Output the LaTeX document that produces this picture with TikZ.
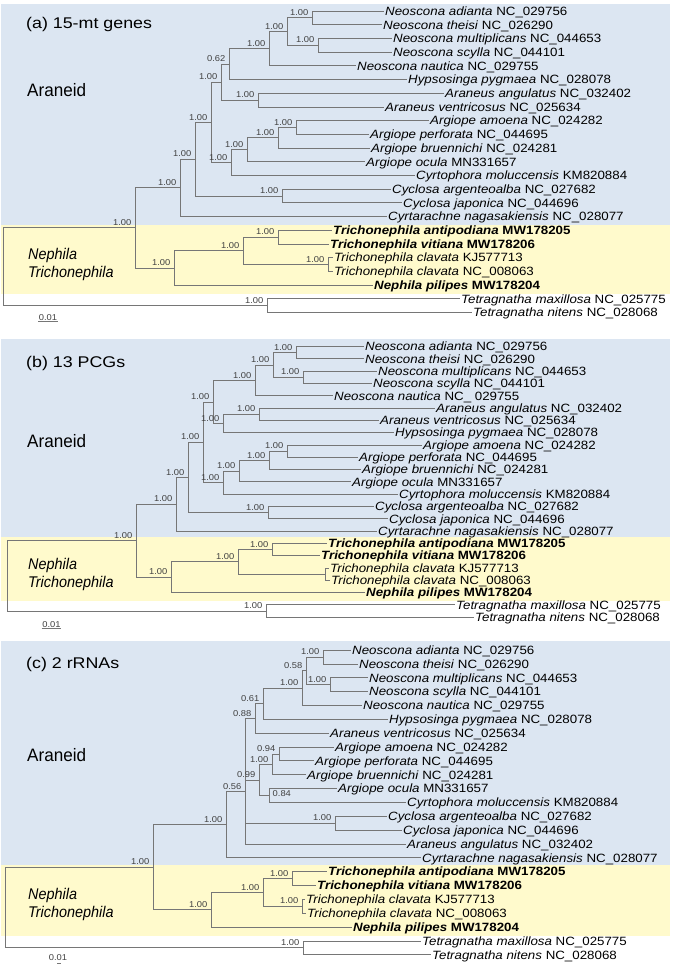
\documentclass[tikz,border=0pt]{standalone}
\usepackage{fontspec}
\setmainfont{Liberation Sans}
\definecolor{araneidblue}{RGB}{220,230,242}
\definecolor{nephilayellow}{RGB}{255,250,204}
\definecolor{branchgray}{RGB}{118,118,118}
\definecolor{supportgray}{RGB}{64,64,64}
\newcommand\taxon[2]{\scalebox{1.11}[1]{\textit{#1} #2}}
\newcommand\taxonbf[2]{\scalebox{1.11}[1]{\textbf{\textit{#1} #2}}}
\newcommand\supp[1]{\scalebox{1.1}[1]{#1}}
\tikzset{
  branch/.style={draw=branchgray, line width=0.7pt},
  tip/.style={anchor=west, inner sep=1pt, text depth=0pt, font=\fontsize{12}{14}\selectfont},
  support/.style={anchor=south east, inner sep=0.5pt, xshift=-3pt, yshift=1.5pt,
    text=supportgray, font=\fontsize{8.5}{10}\selectfont},
  panel/.style={anchor=west, inner sep=0pt, font=\fontsize{15.5}{18}\selectfont},
  group/.style={anchor=west, inner sep=0pt, font=\fontsize{18}{20}\selectfont},
  genus/.style={anchor=north west, inner sep=0pt, align=left, font=\fontsize{15.5}{18}\selectfont\itshape},
  scalelabel/.style={inner sep=0.5pt, text=supportgray, font=\fontsize{8.5}{10}\selectfont}
}
\begin{document}
\begin{tikzpicture}[x=1pt,y=-1pt]
\useasboundingbox (0,0) rectangle (673,968);

% clade boxes
\fill[araneidblue] (1,4) rectangle (670,225);
\fill[nephilayellow] (1,225) rectangle (670,294);
\fill[araneidblue] (1,339) rectangle (670,536.7);
\fill[nephilayellow] (1,536.7) rectangle (670,601);
\fill[araneidblue] (1,641) rectangle (670,865);
\fill[nephilayellow] (1,865) rectangle (670,936);

% ---------------- (a) 15-mt genes
\node[panel] (aTitle) at (26,24) {\scalebox{1.15}[1]{(a) 15-mt genes}};
\node[group] (aAraneid) at (27,90) {\scalebox{0.95}[1]{Araneid}};
\node[genus] (aNephila) at (28,248) {\scalebox{0.93}[1]{Nephila}\\\scalebox{0.93}[1]{Trichonephila}};

\node[tip] (aT1) at (384,11) {\taxon{Neoscona adianta}{NC\_029756}};
\node[tip] (aT2) at (382,24.7) {\taxon{Neoscona theisi}{NC\_026290}};
\node[tip] (aT3) at (392,38.4) {\taxon{Neoscona multiplicans}{NC\_044653}};
\node[tip] (aT4) at (392,52.1) {\taxon{Neoscona scylla}{NC\_044101}};
\node[tip] (aT5) at (356,65.8) {\taxon{Neoscona nautica}{NC\_029755}};
\node[tip] (aT6) at (407,79.5) {\taxon{Hypsosinga pygmaea}{NC\_028078}};
\node[tip] (aT7) at (444,93.2) {\taxon{Araneus angulatus}{NC\_032402}};
\node[tip] (aT8) at (384,106.9) {\taxon{Araneus ventricosus}{NC\_025634}};
\node[tip] (aT9) at (429,120.6) {\taxon{Argiope amoena}{NC\_024282}};
\node[tip] (aT10) at (369,134.3) {\taxon{Argiope perforata}{NC\_044695}};
\node[tip] (aT11) at (370,148) {\taxon{Argiope bruennichi}{NC\_024281}};
\node[tip] (aT12) at (365,161.7) {\taxon{Argiope ocula}{MN331657}};
\node[tip] (aT13) at (415,175.4) {\taxon{Cyrtophora moluccensis}{KM820884}};
\node[tip] (aT14) at (391,189.1) {\taxon{Cyclosa argenteoalba}{NC\_027682}};
\node[tip] (aT15) at (402,202.8) {\taxon{Cyclosa japonica}{NC\_044696}};
\node[tip] (aT16) at (387,216.5) {\taxon{Cyrtarachne nagasakiensis}{NC\_028077}};
\node[tip] (aT17) at (332,230.2) {\taxonbf{Trichonephila antipodiana}{MW178205}};
\node[tip] (aT18) at (329,243.9) {\taxonbf{Trichonephila vitiana}{MW178206}};
\node[tip] (aT19) at (333,257.6) {\taxon{Trichonephila clavata}{KJ577713}};
\node[tip] (aT20) at (333,271.3) {\taxon{Trichonephila clavata}{NC\_008063}};
\node[tip] (aT21) at (373,285) {\taxonbf{Nephila pilipes}{MW178204}};
\node[tip] (aT22) at (460,298.7) {\taxon{Tetragnatha maxillosa}{NC\_025775}};
\node[tip] (aT23) at (472,312.4) {\taxon{Tetragnatha nitens}{NC\_028068}};

\coordinate (aN1) at (312,17.85);
\coordinate (aN2) at (318,45.25);
\coordinate (aN3) at (287,31.55);
\coordinate (aN4) at (269,48.7);
\coordinate (aN5) at (229,64.1);
\coordinate (aN6) at (258,100.05);
\coordinate (aN7) at (221,82.1);
\coordinate (aN8) at (296,127.45);
\coordinate (aN9) at (278,137.7);
\coordinate (aN10) at (247,149.7);
\coordinate (aN11) at (231,162.6);
\coordinate (aN12) at (211,122.3);
\coordinate (aN13) at (282,195.95);
\coordinate (aN14) at (195,159.1);
\coordinate (aN15) at (180,187.8);
\coordinate (aN17) at (278,237.05);
\coordinate (aN18) at (328,264.45);
\coordinate (aN19) at (243,250.75);
\coordinate (aN20) at (174,267.9);
\coordinate (aN21) at (135,227.85);
\coordinate (aN22) at (267,305.55);
\coordinate (aRoot) at (3.3,266.7);

\draw[branch] (aN1) |- (aT1.west) (aN1) |- (aT2.west);
\draw[branch] (aN2) |- (aT3.west) (aN2) |- (aT4.west);
\draw[branch] (aN3) |- (aN1) (aN3) |- (aN2);
\draw[branch] (aN4) |- (aN3) (aN4) |- (aT5.west);
\draw[branch] (aN5) |- (aN4) (aN5) |- (aT6.west);
\draw[branch] (aN6) |- (aT7.west) (aN6) |- (aT8.west);
\draw[branch] (aN7) |- (aN5) (aN7) |- (aN6);
\draw[branch] (aN8) |- (aT9.west) (aN8) |- (aT10.west);
\draw[branch] (aN9) |- (aN8) (aN9) |- (aT11.west);
\draw[branch] (aN10) |- (aN9) (aN10) |- (aT12.west);
\draw[branch] (aN11) |- (aN10) (aN11) |- (aT13.west);
\draw[branch] (aN12) |- (aN7) (aN12) |- (aN11);
\draw[branch] (aN13) |- (aT14.west) (aN13) |- (aT15.west);
\draw[branch] (aN14) |- (aN12) (aN14) |- (aN13);
\draw[branch] (aN15) |- (aN14) (aN15) |- (aT16.west);
\draw[branch] (aN17) |- (aT17.west) (aN17) |- (aT18.west);
\draw[branch] (aN18) |- (aT19.west) (aN18) |- (aT20.west);
\draw[branch] (aN19) |- (aN17) (aN19) |- (aN18);
\draw[branch] (aN20) |- (aN19) (aN20) |- (aT21.west);
\draw[branch] (aN21) |- (aN15) (aN21) |- (aN20);
\draw[branch] (aN22) |- (aT22.west) (aN22) |- (aT23.west);
\draw[branch] (aRoot) |- (aN21) (aRoot) |- (aN22);

\node[support] at (aN1) {\supp{1.00}};
\node[support] at (aN2) {\supp{1.00}};
\node[support] at (aN3) {\supp{1.00}};
\node[support] at (aN4) {\supp{1.00}};
\node[support] at (aN5) {\supp{0.62}};
\node[support] at (aN6) {\supp{1.00}};
\node[support] at (aN7) {\supp{1.00}};
\node[support] at (aN8) {\supp{1.00}};
\node[support] at (aN9) {\supp{1.00}};
\node[support] at (aN10) {\supp{1.00}};
\node[support] at (aN11) {\supp{1.00}};
\node[support] at (aN12) {\supp{1.00}};
\node[support] at (aN13) {\supp{1.00}};
\node[support] at (aN14) {\supp{1.00}};
\node[support] at (aN15) {\supp{1.00}};
\node[support] at (aN17) {\supp{1.00}};
\node[support] at (aN18) {\supp{1.00}};
\node[support] at (aN19) {\supp{1.00}};
\node[support] at (aN20) {\supp{1.00}};
\node[support] at (aN21) {\supp{1.00}};
\node[support] at (aN22) {\supp{1.00}};

\node[scalelabel] (aScale) at (48,318) {\supp{0.01}};
\draw[branch] (aScale.south west) -- (aScale.south east);

% ---------------- (b) 13 PCGs
\node[panel] (bTitle) at (26,363.5) {\scalebox{1.15}[1]{(b) 13 PCGs}};
\node[group] (bAraneid) at (27,441.5) {\scalebox{0.95}[1]{Araneid}};
\node[genus] (bNephila) at (28,558) {\scalebox{0.93}[1]{Nephila}\\\scalebox{0.93}[1]{Trichonephila}};

\node[tip] (bT1) at (364,346.5) {\taxon{Neoscona adianta}{NC\_029756}};
\node[tip] (bT2) at (364,358.8) {\taxon{Neoscona theisi}{NC\_026290}};
\node[tip] (bT3) at (377,371.1) {\taxon{Neoscona multiplicans}{NC\_044653}};
\node[tip] (bT4) at (372,383.4) {\taxon{Neoscona scylla}{NC\_044101}};
\node[tip] (bT5) at (333,395.7) {\taxon{Neoscona nautica}{NC\_ 029755}};
\node[tip] (bT6) at (435,408) {\taxon{Araneus angulatus}{NC\_032402}};
\node[tip] (bT7) at (379,420.3) {\taxon{Araneus ventricosus}{NC\_025634}};
\node[tip] (bT8) at (394,432.6) {\taxon{Hypsosinga pygmaea}{NC\_028078}};
\node[tip] (bT9) at (422,444.9) {\taxon{Argiope amoena}{NC\_024282}};
\node[tip] (bT10) at (358,457.2) {\taxon{Argiope perforata}{NC\_044695}};
\node[tip] (bT11) at (361,469.5) {\taxon{Argiope bruennichi}{NC\_024281}};
\node[tip] (bT12) at (351,481.8) {\taxon{Argiope ocula}{MN331657}};
\node[tip] (bT13) at (398,494.1) {\taxon{Cyrtophora moluccensis}{KM820884}};
\node[tip] (bT14) at (374,506.4) {\taxon{Cyclosa argenteoalba}{NC\_027682}};
\node[tip] (bT15) at (388,518.7) {\taxon{Cyclosa japonica}{NC\_044696}};
\node[tip] (bT16) at (377,531) {\taxon{Cyrtarachne nagasakiensis}{NC\_028077}};
\node[tip] (bT17) at (327,543.3) {\taxonbf{Trichonephila antipodiana}{MW178205}};
\node[tip] (bT18) at (320,555.6) {\taxonbf{Trichonephila vitiana}{MW178206}};
\node[tip] (bT19) at (329,567.9) {\taxon{Trichonephila clavata}{KJ577713}};
\node[tip] (bT20) at (330,580.2) {\taxon{Trichonephila clavata}{NC\_008063}};
\node[tip] (bT21) at (365,592.5) {\taxonbf{Nephila pilipes}{MW178204}};
\node[tip] (bT22) at (455,604.8) {\taxon{Tetragnatha maxillosa}{NC\_025775}};
\node[tip] (bT23) at (474,617.1) {\taxon{Tetragnatha nitens}{NC\_028068}};

\coordinate (bN1) at (296,352.65);
\coordinate (bN2) at (303,377.25);
\coordinate (bN3) at (273,364.95);
\coordinate (bN4) at (255,380.3);
\coordinate (bN5) at (259,414.15);
\coordinate (bN6) at (223,423.4);
\coordinate (bN7) at (213,401.85);
\coordinate (bN8) at (287,451.05);
\coordinate (bN9) at (269,460.3);
\coordinate (bN10) at (239,471.05);
\coordinate (bN11) at (223,482.6);
\coordinate (bN12) at (203,442.2);
\coordinate (bN13) at (268,512.55);
\coordinate (bN14) at (188,477.4);
\coordinate (bN15) at (176,504.2);
\coordinate (bN17) at (272,549.45);
\coordinate (bN18) at (325,574.05);
\coordinate (bN19) at (238,561.75);
\coordinate (bN20) at (171,577.1);
\coordinate (bN21) at (136,540.65);
\coordinate (bN22) at (266,610.95);
\coordinate (bRoot) at (7.3,575.8);

\draw[branch] (bN1) |- (bT1.west) (bN1) |- (bT2.west);
\draw[branch] (bN2) |- (bT3.west) (bN2) |- (bT4.west);
\draw[branch] (bN3) |- (bN1) (bN3) |- (bN2);
\draw[branch] (bN4) |- (bN3) (bN4) |- (bT5.west);
\draw[branch] (bN5) |- (bT6.west) (bN5) |- (bT7.west);
\draw[branch] (bN6) |- (bN5) (bN6) |- (bT8.west);
\draw[branch] (bN7) |- (bN4) (bN7) |- (bN6);
\draw[branch] (bN8) |- (bT9.west) (bN8) |- (bT10.west);
\draw[branch] (bN9) |- (bN8) (bN9) |- (bT11.west);
\draw[branch] (bN10) |- (bN9) (bN10) |- (bT12.west);
\draw[branch] (bN11) |- (bN10) (bN11) |- (bT13.west);
\draw[branch] (bN12) |- (bN7) (bN12) |- (bN11);
\draw[branch] (bN13) |- (bT14.west) (bN13) |- (bT15.west);
\draw[branch] (bN14) |- (bN12) (bN14) |- (bN13);
\draw[branch] (bN15) |- (bN14) (bN15) |- (bT16.west);
\draw[branch] (bN17) |- (bT17.west) (bN17) |- (bT18.west);
\draw[branch] (bN18) |- (bT19.west) (bN18) |- (bT20.west);
\draw[branch] (bN19) |- (bN17) (bN19) |- (bN18);
\draw[branch] (bN20) |- (bN19) (bN20) |- (bT21.west);
\draw[branch] (bN21) |- (bN15) (bN21) |- (bN20);
\draw[branch] (bN22) |- (bT22.west) (bN22) |- (bT23.west);
\draw[branch] (bRoot) |- (bN21) (bRoot) |- (bN22);

\node[support] at (bN1) {\supp{1.00}};
\node[support] at (bN2) {\supp{1.00}};
\node[support] at (bN3) {\supp{1.00}};
\node[support] at (bN4) {\supp{1.00}};
\node[support] at (bN5) {\supp{1.00}};
\node[support] at (bN6) {\supp{1.00}};
\node[support] at (bN7) {\supp{1.00}};
\node[support] at (bN8) {\supp{1.00}};
\node[support] at (bN9) {\supp{1.00}};
\node[support] at (bN10) {\supp{1.00}};
\node[support] at (bN11) {\supp{1.00}};
\node[support] at (bN12) {\supp{1.00}};
\node[support] at (bN13) {\supp{1.00}};
\node[support] at (bN14) {\supp{1.00}};
\node[support] at (bN15) {\supp{1.00}};
\node[support] at (bN17) {\supp{1.00}};
\node[support] at (bN19) {\supp{1.00}};
\node[support] at (bN20) {\supp{1.00}};
\node[support] at (bN21) {\supp{1.00}};
\node[support] at (bN22) {\supp{1.00}};

\node[scalelabel] (bScale) at (51.5,624.5) {\supp{0.01}};
\draw[branch] (bScale.south west) -- (bScale.south east);

% ---------------- (c) 2 rRNAs
\node[panel] (cTitle) at (26,664) {\scalebox{1.15}[1]{(c) 2 rRNAs}};
\node[group] (cAraneid) at (27,755) {\scalebox{0.95}[1]{Araneid}};
\node[genus] (cNephila) at (28,888) {\scalebox{0.93}[1]{Nephila}\\\scalebox{0.93}[1]{Trichonephila}};

\node[tip] (cT1) at (351,650) {\taxon{Neoscona adianta}{NC\_029756}};
\node[tip] (cT2) at (358,663.85) {\taxon{Neoscona theisi}{NC\_026290}};
\node[tip] (cT3) at (368,677.7) {\taxon{Neoscona multiplicans}{NC\_044653}};
\node[tip] (cT4) at (368,691.55) {\taxon{Neoscona scylla}{NC\_044101}};
\node[tip] (cT5) at (362,705.4) {\taxon{Neoscona nautica}{NC\_029755}};
\node[tip] (cT6) at (388,719.25) {\taxon{Hypsosinga pygmaea}{NC\_028078}};
\node[tip] (cT7) at (329,733.1) {\taxon{Araneus ventricosus}{NC\_025634}};
\node[tip] (cT8) at (334,746.95) {\taxon{Argiope amoena}{NC\_024282}};
\node[tip] (cT9) at (314,760.8) {\taxon{Argiope perforata}{NC\_044695}};
\node[tip] (cT10) at (306,774.65) {\taxon{Argiope bruennichi}{NC\_024281}};
\node[tip] (cT11) at (337,788.5) {\taxon{Argiope ocula}{MN331657}};
\node[tip] (cT12) at (406,802.35) {\taxon{Cyrtophora moluccensis}{KM820884}};
\node[tip] (cT13) at (387,816.2) {\taxon{Cyclosa argenteoalba}{NC\_027682}};
\node[tip] (cT14) at (402,830.05) {\taxon{Cyclosa japonica}{NC\_044696}};
\node[tip] (cT15) at (406,843.9) {\taxon{Araneus angulatus}{NC\_032402}};
\node[tip] (cT16) at (421,857.75) {\taxon{Cyrtarachne nagasakiensis}{NC\_028077}};
\node[tip] (cT17) at (327,871.6) {\taxonbf{Trichonephila antipodiana}{MW178205}};
\node[tip] (cT18) at (316,885.45) {\taxonbf{Trichonephila vitiana}{MW178206}};
\node[tip] (cT19) at (305,899.3) {\taxon{Trichonephila clavata}{KJ577713}};
\node[tip] (cT20) at (306,913.15) {\taxon{Trichonephila clavata}{NC\_008063}};
\node[tip] (cT21) at (352,927) {\taxonbf{Nephila pilipes}{MW178204}};
\node[tip] (cT22) at (421,940.85) {\taxon{Tetragnatha maxillosa}{NC\_025775}};
\node[tip] (cT23) at (431,954.7) {\taxon{Tetragnatha nitens}{NC\_028068}};

\coordinate (cN1) at (323,656.9);
\coordinate (cN2) at (330,684.6);
\coordinate (cN3) at (306,670.8);
\coordinate (cN4) at (302,688.1);
\coordinate (cN5) at (263,703.7);
\coordinate (cN6) at (255,718.4);
\coordinate (cN7) at (279,753.9);
\coordinate (cN8) at (272,764.3);
\coordinate (cN9) at (269,795.4);
\coordinate (cN10) at (259,779.9);
\coordinate (cN13) at (335,823.1);
\coordinate (cN14) at (245,791.3);
\coordinate (cN15) at (226,824.5);
\coordinate (cN17) at (292,878.5);
\coordinate (cN18) at (302,906.2);
\coordinate (cN19) at (263,892.4);
\coordinate (cN20) at (211,909.7);
\coordinate (cN21) at (153,867.1);
\coordinate (cN22) at (303,947.8);
\coordinate (cRoot) at (5,907.5);

\draw[branch] (cN1) |- (cT1.west) (cN1) |- (cT2.west);
\draw[branch] (cN2) |- (cT3.west) (cN2) |- (cT4.west);
\draw[branch] (cN3) |- (cN1) (cN3) |- (cN2);
\draw[branch] (cN4) |- (cN3) (cN4) |- (cT5.west);
\draw[branch] (cN5) |- (cN4) (cN5) |- (cT6.west);
\draw[branch] (cN6) |- (cN5) (cN6) |- (cT7.west);
\draw[branch] (cN7) |- (cT8.west) (cN7) |- (cT9.west);
\draw[branch] (cN8) |- (cN7) (cN8) |- (cT10.west);
\draw[branch] (cN9) |- (cT11.west) (cN9) |- (cT12.west);
\draw[branch] (cN10) |- (cN8) (cN10) |- (cN9);
\draw[branch] (cN13) |- (cT13.west) (cN13) |- (cT14.west);
\draw[branch] (cN14) |- (cN6) (cN14) |- (cN10) (cN14) |- (cN13) (cN14) |- (cT15.west);
\draw[branch] (cN15) |- (cN14) (cN15) |- (cT16.west);
\draw[branch] (cN17) |- (cT17.west) (cN17) |- (cT18.west);
\draw[branch] (cN18) |- (cT19.west) (cN18) |- (cT20.west);
\draw[branch] (cN19) |- (cN17) (cN19) |- (cN18);
\draw[branch] (cN20) |- (cN19) (cN20) |- (cT21.west);
\draw[branch] (cN21) |- (cN15) (cN21) |- (cN20);
\draw[branch] (cN22) |- (cT22.west) (cN22) |- (cT23.west);
\draw[branch] (cRoot) |- (cN21) (cRoot) |- (cN22);

\node[support] at (cN1) {\supp{1.00}};
\node[support] at (cN2) {\supp{1.00}};
\node[support] at (cN3) {\supp{0.58}};
\node[support] at (cN4) {\supp{1.00}};
\node[support] at (cN5) {\supp{0.61}};
\node[support] at (cN6) {\supp{0.88}};
\node[support] at (cN7) {\supp{0.94}};
\node[support] at (cN8) {\supp{1.00}};
\node[support, anchor=west, xshift=6pt, yshift=0pt] at (cN9) {\supp{0.84}};
\node[support] at (cN10) {\supp{0.99}};
\node[support] at (cN13) {\supp{1.00}};
\node[support] at (cN14) {\supp{0.56}};
\node[support] at (cN15) {\supp{1.00}};
\node[support] at (cN17) {\supp{1.00}};
\node[support] at (cN18) {\supp{1.00}};
\node[support] at (cN19) {\supp{1.00}};
\node[support] at (cN20) {\supp{1.00}};
\node[support] at (cN21) {\supp{1.00}};
\node[support] at (cN22) {\supp{1.00}};

\node[scalelabel] (cScale) at (58,958) {\supp{0.01}};
\coordinate (cBarL) at (57,963);
\coordinate (cBarR) at (61,963);
\draw[branch] (cBarL) -- (cBarR);
\end{tikzpicture}
\end{document}
